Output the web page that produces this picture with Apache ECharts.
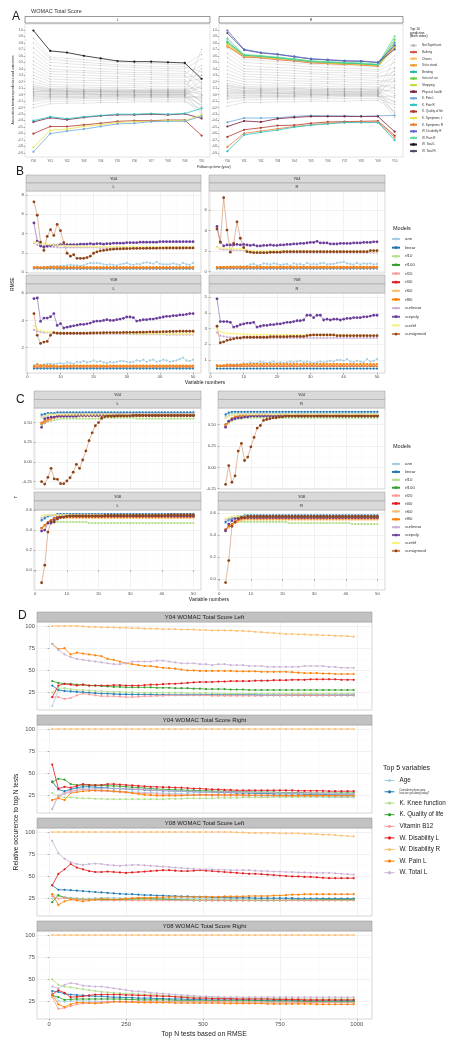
<!DOCTYPE html>
<html><head><meta charset="utf-8">
<script src="https://cdn.jsdelivr.net/npm/echarts@6.0.0/dist/echarts.min.js"></script>
<style>html,body{margin:0;padding:0;background:#fff}#c{width:455px;height:1050px}</style>
</head><body><div id="c"></div><script>
// ---------------- Panel A data ----------------
const aTimes = ['Y00','Y01','Y02','Y03','Y04','Y05','Y06','Y07','Y08','Y09','Y10'];
const aYTicks = [-0.9,-0.8,-0.7,-0.6,-0.5,-0.4,-0.3,-0.2,-0.1,0,0.1,0.2,0.3,0.4,0.5,0.6,0.7,0.8,0.9,1.0];
const aNames = ['Not Significant','Bathing','Chores','Sit to stand','Bending','In/out of car','Shopping','Physical health','K. Pain L','K. Pain R','K. Quality of life','K. Symptoms L','K. Symptoms R','W. Disability R','W. Pain R','W. Total L','W. Total R'];
const aColors = ['#bdbdbd','#d9534f','#f5c26b','#f29b30','#2bb5a5','#6ccf3f','#c4d93a','#7a1f3d','#6fa8dc','#2ec4c4','#b03a2e','#e8e04a','#e8833a','#5b6bd6','#5ee0a0','#1a1a1a','#4a4f6a'];
const aLGray = [
 [.87,.58,.56,.54,.52,.5,.49,.48,.47,.46,.62],
 [.8,.55,.52,.5,.48,.46,.45,.44,.43,.43,.35],
 [.72,.5,.48,.46,.45,.43,.42,.41,.4,.4,.55],
 [.65,.45,.43,.42,.4,.39,.38,.37,.37,.36,.18],
 [.58,.4,.38,.37,.36,.35,.34,.34,.33,.33,.45],
 [.52,.36,.35,.34,.33,.32,.31,.31,.3,.3,.08],
 [.46,.32,.31,.3,.29,.28,.28,.27,.27,.27,.3],
 [.4,.28,.27,.26,.25,.25,.24,.24,.23,.23,-.05],
 [.35,.24,.23,.22,.22,.21,.21,.2,.2,.2,.25],
 [.3,.2,.19,.19,.18,.18,.17,.17,.17,.17,.02],
 [.25,.16,.15,.15,.14,.14,.14,.13,.13,.13,.4],
 [.2,.13,.12,.12,.11,.11,.11,.1,.1,.1,-.12],
 [.16,.1,.1,.09,.09,.09,.08,.08,.08,.08,.12],
 [.13,.09,.09,.08,.08,.08,.07,.07,.07,.07,0],
 [.12,.08,.07,.07,.07,.06,.06,.06,.06,.06,-.2],
 [.1,.07,.07,.07,.06,.06,.06,.06,.06,.06,.3],
 [.09,.06,.05,.05,.05,.05,.04,.04,.04,.04,.2],
 [.08,.05,.05,.05,.05,.05,.05,.05,.05,.05,-.1],
 [.06,.04,.04,.03,.03,.03,.03,.03,.03,.03,-.08],
 [.05,.04,.03,.03,.03,.03,.03,.03,.03,.03,.1],
 [.03,.02,.02,.02,.01,.01,.01,.01,.01,.01,.05],
 [.02,.01,.01,.01,.01,.01,.01,.01,.01,.01,-.18],
 [0,0,0,0,0,0,0,0,0,0,-.28],
 [-.01,0,0,0,0,0,0,0,0,0,.25],
 [-.03,-.02,-.02,-.02,-.01,-.01,-.01,-.01,-.01,-.01,.15],
 [-.04,-.03,-.03,-.03,-.03,-.02,-.02,-.02,-.02,-.02,-.05],
 [-.06,-.04,-.04,-.04,-.03,-.03,-.03,-.03,-.03,-.03,-.15],
 [-.08,-.05,-.05,-.05,-.05,-.04,-.04,-.04,-.04,-.04,-.25],
 [-.1,-.07,-.07,-.06,-.06,-.06,-.05,-.05,-.05,-.05,-.02],
 [-.15,-.1,-.1,-.09,-.09,-.08,-.08,-.08,-.08,-.08,-.3],
 [-.2,-.14,-.13,-.13,-.12,-.12,-.11,-.11,-.11,-.11,-.22],
 [.04,.07,.06,.05,.05,.04,.04,.04,.03,.03,.7]
];
const aLSigNames = ['Physical health','K. Pain R','K. Quality of life','K. Symptoms L','K. Pain L','W. Total L'];
const aLSig = [
 [-.42,-.355,-.385,-.35,-.325,-.31,-.31,-.3,-.31,-.295,-.365],
 [-.4,-.34,-.37,-.34,-.32,-.3,-.3,-.29,-.3,-.29,-.21],
 [-.6,-.49,-.49,-.465,-.44,-.41,-.4,-.4,-.39,-.39,-.63],
 [-.81,-.55,-.53,-.49,-.465,-.43,-.415,-.41,-.4,-.4,-.31],
 [-.88,-.6,-.56,-.53,-.49,-.45,-.44,-.415,-.41,-.41,-.33],
 [.99,.675,.65,.6,.56,.52,.51,.51,.5,.49,.245]
];
const aRGray = [
 [.88,.58,.56,.54,.52,.5,.49,.48,.47,.45,.82],
 [.8,.55,.53,.51,.49,.47,.46,.45,.44,.43,.7],
 [.72,.5,.48,.47,.45,.43,.42,.41,.4,.39,.6],
 [.64,.45,.43,.42,.41,.39,.38,.37,.37,.36,.5],
 [.57,.4,.39,.38,.37,.35,.34,.34,.33,.32,.42],
 [.5,.36,.35,.34,.33,.32,.31,.3,.3,.29,.3],
 [.44,.32,.31,.3,.29,.28,.27,.27,.26,.26,.36],
 [.38,.28,.27,.26,.25,.24,.24,.23,.23,.22,.2],
 [.32,.24,.23,.22,.21,.21,.2,.2,.19,.19,.25],
 [.27,.2,.19,.18,.18,.17,.17,.16,.16,.16,.1],
 [.22,.16,.15,.15,.14,.14,.13,.13,.13,.12,.15],
 [.18,.13,.12,.12,.11,.11,.1,.1,.1,.1,.02],
 [.15,.11,.1,.1,.1,.09,.09,.09,.09,.08,.55],
 [.14,.1,.09,.09,.09,.08,.08,.08,.08,.07,.06],
 [.12,.09,.08,.08,.08,.07,.07,.07,.07,.07,-.3],
 [.1,.07,.07,.06,.06,.06,.06,.05,.05,.05,-.05],
 [.09,.06,.06,.06,.05,.05,.05,.05,.05,.05,.4],
 [.07,.05,.05,.04,.04,.04,.04,.04,.03,.03,-.12],
 [.05,.04,.04,.03,.03,.03,.03,.03,.03,.03,.22],
 [.04,.03,.03,.02,.02,.02,.02,.02,.02,.02,-.2],
 [.02,.02,.02,.02,.01,.01,.01,.01,.01,.01,.12],
 [.01,.01,.01,.01,.01,0,0,0,0,0,-.28],
 [-.01,-.01,-.01,-.01,-.01,0,0,0,0,0,.32],
 [-.03,-.02,-.02,-.02,-.02,-.01,-.01,-.01,-.01,-.01,-.35],
 [-.05,-.04,-.03,-.03,-.03,-.03,-.02,-.02,-.02,-.02,-.1],
 [-.07,-.05,-.05,-.04,-.04,-.04,-.04,-.03,-.03,-.03,-.02],
 [-.12,-.08,-.08,-.07,-.07,-.07,-.06,-.06,-.06,-.06,-.15],
 [-.18,-.12,-.12,-.11,-.11,-.1,-.1,-.1,-.09,-.09,-.25]
];
const aRSigNames = ['K. Pain L','Physical health','K. Quality of life','K. Symptoms R','K. Pain R','Bathing','Sit to stand','Chores','Shopping','In/out of car','Bending','W. Pain R','W. Total R','W. Disability R'];
const aRSig = [
 [-.425,-.36,-.36,-.355,-.335,-.32,-.325,-.325,-.335,-.325,-.32],
 [-.49,-.405,-.42,-.37,-.35,-.335,-.335,-.335,-.335,-.335,-.57],
 [-.65,-.54,-.51,-.475,-.47,-.44,-.42,-.415,-.41,-.405,-.63],
 [-.805,-.595,-.56,-.525,-.49,-.465,-.44,-.425,-.42,-.42,-.66],
 [-.87,-.62,-.58,-.545,-.5,-.47,-.45,-.43,-.43,-.43,-.7],
 [.75,.58,.57,.54,.52,.49,.48,.47,.46,.44,.76],
 [.74,.59,.57,.55,.53,.5,.48,.47,.46,.44,.74],
 [.76,.6,.58,.55,.53,.5,.49,.48,.47,.45,.78],
 [.78,.6,.59,.56,.54,.51,.49,.48,.47,.45,.72],
 [.8,.61,.6,.57,.55,.52,.5,.49,.48,.46,.85],
 [.82,.61,.59,.57,.54,.51,.5,.49,.48,.46,.8],
 [.86,.62,.6,.58,.55,.52,.51,.5,.49,.47,.9],
 [.95,.69,.645,.62,.585,.55,.535,.52,.515,.495,.7],
 [.99,.7,.65,.625,.59,.555,.54,.525,.52,.5,.76]
];

// ---------------- Panels B & C data ----------------
const models = ['ann','linear','rf10','rf100','rf20','rf40','rf60','rf80','surlinear','surpoly','surrbf','sursigmoid'];
const modelColors = ['#a6cee3','#1f78b4','#b2df8a','#33a02c','#fb9a99','#e31a1c','#fdbf6f','#ff7f00','#cab2d6','#6a3d9a','#f8f37f','#8c4215'];
const modelLine = ['#a6cee3','#1f78b4','#b2df8a','#33a02c','#fb9a99','#e31a1c','#fdbf6f','#ff7f00','#cab2d6','#7d5aa8','#f8f37f','#cf8a5c'];
const xVar = [2,3,4,5,6,7,8,9,10,11,12,13,14,15,16,17,18,19,20,21,22,23,24,25,26,27,28,29,30,31,32,33,34,35,36,37,38,39,40,41,42,43,44,45,46,47,48,49,50];
const bTicksY04L = [0,2,4,6,8], bTicksY04R = [0,2,4,6], bTicksY08L = [0,2,4,6], bTicksY08R = [1,2,3,4,5];
const xVarTicks = [0,10,20,30,40,50];
// rows in order of `models`
const rmseY04L = [
 [.5,.5,.5,.55,.55,.6,.6,.6,.65,.65,.7,.75,.7,.7,.65,.7,.85,.95,.9,.95,.9,.8,.75,.8,.75,.7,.8,.85,.95,.8,.75,.85,.8,.95,1,.95,.85,1.05,.85,.8,.8,.8,.9,.8,.75,.95,.8,.75,.95],
 [.38,.37,.37,.36,.36,.36,.36,.35,.35,.35,.35,.35,.35,.35,.35,.35,.35,.35,.35,.35,.35,.35,.35,.35,.35,.35,.35,.35,.35,.35,.35,.35,.35,.35,.35,.35,.35,.35,.35,.35,.35,.35,.35,.35,.35,.35,.35,.35,.35],
 [.42,.42,.41,.41,.41,.4,.4,.4,.4,.4,.4,.4,.4,.4,.4,.4,.4,.4,.4,.4,.4,.4,.4,.4,.4,.4,.4,.4,.4,.4,.4,.4,.4,.4,.4,.4,.4,.4,.4,.4,.4,.4,.4,.4,.4,.4,.4,.4,.4],
 [.45,.46,.44,.45,.45,.46,.46,.45,.45,.45,.44,.44,.44,.44,.44,.44,.44,.44,.44,.44,.44,.44,.44,.44,.44,.44,.44,.44,.44,.44,.44,.44,.44,.44,.44,.44,.44,.44,.44,.44,.44,.44,.44,.44,.44,.44,.44,.44,.44],
 [.44,.45,.43,.44,.44,.45,.45,.44,.44,.44,.43,.43,.43,.43,.43,.43,.43,.43,.43,.43,.43,.43,.43,.43,.43,.43,.43,.43,.43,.43,.43,.43,.43,.43,.43,.43,.43,.43,.43,.43,.43,.43,.43,.43,.43,.43,.43,.43,.43],
 [.46,.47,.44,.45,.46,.47,.47,.46,.46,.46,.45,.45,.45,.45,.45,.45,.45,.45,.45,.45,.45,.45,.45,.45,.45,.45,.45,.45,.45,.45,.45,.45,.45,.45,.45,.45,.45,.45,.45,.45,.45,.45,.45,.45,.45,.45,.45,.45,.45],
 [.48,.5,.45,.47,.48,.5,.5,.5,.49,.48,.47,.47,.47,.47,.47,.47,.47,.47,.47,.47,.47,.47,.47,.47,.47,.47,.47,.47,.47,.47,.47,.47,.47,.47,.47,.47,.47,.47,.47,.47,.47,.47,.47,.47,.47,.47,.47,.47,.47],
 [.5,.55,.45,.5,.5,.55,.55,.55,.52,.5,.5,.5,.49,.49,.49,.49,.5,.5,.49,.49,.49,.49,.49,.49,.49,.49,.49,.49,.49,.49,.49,.49,.49,.49,.49,.49,.49,.49,.49,.49,.49,.49,.49,.49,.49,.49,.49,.49,.49],
 [3,2.8,2.7,2.65,2.6,2.6,2.6,2.55,2.55,2.55,2.55,2.55,2.55,2.55,2.55,2.55,2.55,2.55,2.55,2.55,2.5,2.5,2.5,2.5,2.5,2.5,2.5,2.5,2.5,2.5,2.48,2.48,2.48,2.48,2.48,2.48,2.48,2.48,2.48,2.48,2.47,2.47,2.47,2.47,2.47,2.47,2.47,2.47,2.47],
 [5.1,3.2,2.7,2.6,2.7,2.75,2.8,2.8,2.85,2.85,2.85,2.85,2.85,2.85,2.9,2.9,2.9,2.95,2.9,2.95,2.95,2.9,2.95,2.95,3,3,3,3,3.05,3.05,3.05,3.05,3.1,3.1,3.1,3.1,3.1,3.1,3.15,3.15,3.15,3.15,3.15,3.15,3.15,3.15,3.15,3.15,3.15],
 [3.1,3.05,3,2.95,2.9,2.85,2.8,2.8,2.75,2.75,2.7,2.7,2.7,2.68,2.68,2.66,2.66,2.65,2.65,2.64,2.63,2.63,2.63,2.63,2.63,2.63,2.63,2.63,2.63,2.63,2.62,2.62,2.62,2.62,2.62,2.62,2.62,2.62,2.62,2.62,2.6,2.6,2.6,2.6,2.6,2.6,2.6,2.6,2.6],
 [7.3,5.9,3.1,2.25,3.7,4.4,3.8,4.95,4.3,3.05,1.95,1.65,1.8,1.42,1.42,1.42,1.5,1.65,1.95,2.1,2.2,2.25,2.3,2.35,2.38,2.4,2.4,2.42,2.43,2.44,2.45,2.45,2.46,2.46,2.47,2.47,2.48,2.48,2.49,2.49,2.5,2.5,2.5,2.5,2.5,2.5,2.51,2.51,2.51]
];
const rmseY04R = [
 [.4,.4,.45,.45,.5,.5,.5,.5,.5,.55,.7,.75,.6,.65,.8,.75,.7,.8,.75,.65,.7,.75,.6,.8,.7,.75,.65,.85,.7,.75,.7,.8,.85,.7,.75,.75,.85,.9,.95,.8,.75,.7,.85,.7,.8,.75,.8,.7,.75],
 [.3,.3,.3,.3,.3,.3,.3,.3,.3,.3,.3,.3,.3,.3,.3,.3,.3,.3,.3,.3,.3,.3,.3,.3,.3,.3,.3,.3,.3,.3,.3,.3,.3,.3,.3,.3,.3,.3,.3,.3,.3,.3,.3,.3,.3,.3,.3,.3,.3],
 [.36,.36,.36,.36,.36,.36,.36,.36,.36,.36,.36,.36,.36,.36,.36,.36,.36,.36,.36,.36,.36,.36,.36,.36,.36,.36,.36,.36,.36,.36,.36,.36,.36,.36,.36,.36,.36,.36,.36,.36,.36,.36,.36,.36,.36,.36,.36,.36,.36],
 [.4,.4,.4,.4,.4,.4,.4,.4,.4,.4,.4,.4,.4,.4,.4,.4,.4,.4,.4,.4,.4,.4,.4,.4,.4,.4,.4,.4,.4,.4,.4,.4,.4,.4,.4,.4,.4,.4,.4,.4,.4,.4,.4,.4,.4,.4,.4,.4,.4],
 [.38,.38,.38,.38,.38,.38,.38,.38,.38,.38,.38,.38,.38,.38,.38,.38,.38,.38,.38,.38,.38,.38,.38,.38,.38,.38,.38,.38,.38,.38,.38,.38,.38,.38,.38,.38,.38,.38,.38,.38,.38,.38,.38,.38,.38,.38,.38,.38,.38],
 [.41,.41,.41,.41,.41,.41,.41,.41,.41,.41,.41,.41,.41,.41,.41,.41,.41,.41,.41,.41,.41,.41,.41,.41,.41,.41,.41,.41,.41,.41,.41,.41,.41,.41,.41,.41,.41,.41,.41,.41,.41,.41,.41,.41,.41,.41,.41,.41,.41],
 [.43,.43,.43,.43,.43,.43,.43,.43,.43,.43,.43,.43,.43,.43,.43,.43,.43,.43,.43,.43,.43,.43,.43,.43,.43,.43,.43,.43,.43,.43,.43,.43,.43,.43,.43,.43,.43,.43,.43,.43,.43,.43,.43,.43,.43,.43,.43,.43,.43],
 [.42,.44,.45,.47,.47,.48,.48,.47,.47,.47,.46,.46,.46,.46,.46,.46,.46,.46,.46,.46,.46,.46,.46,.46,.46,.46,.46,.46,.46,.46,.46,.46,.46,.46,.46,.46,.46,.46,.46,.46,.46,.46,.46,.46,.46,.46,.46,.46,.46],
 [2.4,2.2,2.15,2.15,2.1,2.1,2.1,2.1,2.05,2,1.9,1.88,1.86,1.85,1.85,1.85,1.85,1.85,1.85,1.85,1.85,1.85,1.85,1.85,1.85,1.85,1.85,1.85,1.85,1.85,1.85,1.85,1.85,1.85,1.85,1.85,1.85,1.85,1.85,1.85,1.85,1.85,1.85,1.85,1.85,1.85,1.85,1.85,1.85],
 [4.4,2.9,2.5,2.6,2.6,2.6,2.65,2.6,2.65,2.6,2.55,2.6,2.5,2.5,2.55,2.55,2.6,2.55,2.55,2.6,2.6,2.65,2.65,2.7,2.7,2.75,2.75,2.8,2.85,2.85,2.95,2.8,2.8,2.8,2.7,2.7,2.7,2.75,2.75,2.75,2.75,2.8,2.8,2.8,2.85,2.85,2.85,2.9,2.9],
 [2.35,2.3,2.3,2.25,2.25,2.2,2.2,2.2,2.15,2.1,2.05,2.02,2,2,2,2,2,2,2,2,2,2,2,2,2,2,2,2,2,2,1.98,1.98,1.98,1.98,1.98,1.98,1.98,1.98,1.98,1.98,1.97,1.97,1.97,1.97,1.97,1.97,1.97,1.97,1.97],
 [4.15,2.85,7.2,4.05,1.9,2.75,4.85,3.25,2.35,1.95,1.9,1.85,1.85,1.85,1.85,1.85,1.9,1.9,1.9,1.9,1.95,1.95,1.95,1.95,1.95,1.95,1.95,1.95,1.95,1.95,1.95,1.95,1.95,1.95,1.95,1.95,1.95,1.95,1.95,1.95,1.95,1.95,1.95,1.95,1.95,1.95,2.05,2.05,2.05]
];
const rmseY08L = [
 [.7,.75,.7,.75,.8,.8,.75,.8,.85,.8,.9,.85,.8,.95,.9,1,.9,.95,1.05,.95,1,.9,.85,.95,.9,.95,1,1,.95,.9,.95,1.05,1,1.1,.95,1.05,1.1,.95,1,1.1,1.05,.95,1,1.05,1.15,1.25,1.05,1,1.1],
 [.45,.45,.45,.45,.45,.45,.45,.45,.45,.45,.45,.45,.45,.45,.45,.45,.45,.45,.45,.45,.45,.45,.45,.45,.45,.45,.45,.45,.45,.45,.45,.45,.45,.45,.45,.45,.45,.45,.45,.45,.45,.45,.45,.45,.45,.45,.45,.45,.45],
 [.55,.55,.55,.55,.55,.55,.55,.55,.55,.55,.55,.55,.55,.55,.55,.55,.55,.55,.55,.55,.55,.55,.55,.55,.55,.55,.55,.55,.55,.55,.55,.55,.55,.55,.55,.55,.55,.55,.55,.55,.55,.55,.55,.55,.55,.55,.55,.55,.55],
 [.58,.58,.58,.58,.58,.58,.58,.58,.58,.58,.58,.58,.58,.58,.58,.58,.58,.58,.58,.58,.58,.58,.58,.58,.58,.58,.58,.58,.58,.58,.58,.58,.58,.58,.58,.58,.58,.58,.58,.58,.58,.58,.58,.58,.58,.58,.58,.58,.58],
 [.57,.57,.57,.57,.57,.57,.57,.57,.57,.57,.57,.57,.57,.57,.57,.57,.57,.57,.57,.57,.57,.57,.57,.57,.57,.57,.57,.57,.57,.57,.57,.57,.57,.57,.57,.57,.57,.57,.57,.57,.57,.57,.57,.57,.57,.57,.57,.57,.57],
 [.6,.6,.6,.6,.6,.6,.6,.6,.6,.6,.6,.6,.6,.6,.6,.6,.6,.6,.6,.6,.6,.6,.6,.6,.6,.6,.6,.6,.6,.6,.6,.6,.6,.6,.6,.6,.6,.6,.6,.6,.6,.6,.6,.6,.6,.6,.6,.6,.6],
 [.62,.62,.62,.62,.62,.62,.62,.62,.62,.62,.62,.62,.62,.62,.62,.62,.62,.62,.62,.62,.62,.62,.62,.62,.62,.62,.62,.62,.62,.62,.62,.62,.62,.62,.62,.62,.62,.62,.62,.62,.62,.62,.62,.62,.62,.62,.62,.62,.62],
 [.62,.75,.68,.68,.68,.68,.66,.6,.62,.64,.66,.66,.66,.66,.66,.66,.66,.66,.66,.66,.66,.66,.66,.66,.66,.66,.66,.66,.66,.66,.66,.66,.66,.66,.66,.66,.66,.66,.66,.66,.66,.66,.66,.66,.66,.66,.66,.66,.66],
 [3.3,3.2,3.15,3.1,3.1,3.05,3.05,3.05,3,3,3,3,3,3,3,3,3,3,3,3,3,3,3,3,3,3,3,3,3,3,2.97,2.97,2.97,2.97,2.97,2.97,2.97,2.97,2.97,2.97,2.95,2.95,2.95,2.95,2.95,2.95,2.95,2.95,2.95],
 [5.6,5.65,3.93,4.17,4.17,4.27,4.5,3.63,3.76,3.44,3.5,3.55,3.6,3.65,3.7,3.7,3.75,3.8,3.9,3.95,3.95,4,4.05,4,4,4.05,4.1,4.15,4.25,4.25,4.2,3.95,4,4.05,4.05,4.1,4.1,4.15,4.2,4.25,4.3,4.3,4.35,4.35,4.4,4.4,4.45,4.5,4.5],
 [3.6,3.35,3.25,3.2,3.15,3.15,3.1,3.1,3.1,3.05,3.05,3.05,3.05,3.05,3.05,3.05,3.05,3.05,3.05,3.05,3.05,3.05,3.05,3.05,3.05,3.05,3.05,3.05,3.05,3.05,3.02,3.02,3.02,3.02,3.02,3.02,3.02,3.02,3.02,3.02,3,3,3,3,3,3,3,3,3],
 [4.5,2.9,2.3,2.4,2.45,2.9,3.1,3.05,3.05,3.05,3.05,3.05,3.05,3.05,3.05,3.06,3.06,3.07,3.07,3.08,3.08,3.09,3.1,3.1,3.1,3.1,3.1,3.11,3.11,3.12,3.12,3.12,3.13,3.13,3.14,3.15,3.15,3.15,3.16,3.17,3.17,3.18,3.18,3.19,3.2,3.2,3.2,3.2,3.2]
];
const rmseY08R = [
 [.55,.6,.65,.6,.7,.7,.75,.7,.8,.75,.85,.8,.8,.9,.85,.8,.85,.9,.8,.85,.8,.85,.9,.85,.9,.95,.85,.9,.85,.8,.85,.9,.85,.9,.95,.9,1,1,.95,1.05,.9,.85,.95,.9,.85,1.05,.9,.95,1.05],
 [.45,.45,.45,.45,.45,.45,.45,.45,.45,.45,.45,.45,.45,.45,.45,.45,.45,.45,.45,.45,.45,.45,.45,.45,.45,.45,.45,.45,.45,.45,.45,.45,.45,.45,.45,.45,.45,.45,.45,.45,.45,.45,.45,.45,.45,.45,.45,.45,.45],
 [.58,.58,.58,.58,.58,.58,.58,.58,.58,.58,.58,.58,.58,.58,.58,.58,.58,.58,.58,.58,.58,.58,.58,.58,.58,.58,.58,.58,.58,.58,.58,.58,.58,.58,.58,.58,.58,.58,.58,.58,.58,.58,.58,.58,.58,.58,.58,.58,.58],
 [.62,.62,.62,.62,.62,.62,.62,.62,.62,.62,.62,.62,.62,.62,.62,.62,.62,.62,.62,.62,.62,.62,.62,.62,.62,.62,.62,.62,.62,.62,.62,.62,.62,.62,.62,.62,.62,.62,.62,.62,.62,.62,.62,.62,.62,.62,.62,.62,.62],
 [.6,.6,.6,.6,.6,.6,.6,.6,.6,.6,.6,.6,.6,.6,.6,.6,.6,.6,.6,.6,.6,.6,.6,.6,.6,.6,.6,.6,.6,.6,.6,.6,.6,.6,.6,.6,.6,.6,.6,.6,.6,.6,.6,.6,.6,.6,.6,.6,.6],
 [.64,.64,.64,.64,.64,.64,.64,.64,.64,.64,.64,.64,.64,.64,.64,.64,.64,.64,.64,.64,.64,.64,.64,.64,.64,.64,.64,.64,.64,.64,.64,.64,.64,.64,.64,.64,.64,.64,.64,.64,.64,.64,.64,.64,.64,.64,.64,.64,.64],
 [.66,.66,.66,.66,.66,.66,.66,.66,.66,.66,.66,.66,.66,.66,.66,.66,.66,.66,.66,.66,.66,.66,.66,.66,.66,.66,.66,.66,.66,.66,.66,.66,.66,.66,.66,.66,.66,.66,.66,.66,.66,.66,.66,.66,.66,.66,.66,.66,.66],
 [.65,.6,.62,.7,.7,.68,.68,.7,.72,.72,.74,.74,.74,.74,.74,.74,.74,.74,.74,.74,.74,.74,.74,.74,.74,.74,.74,.74,.74,.74,.74,.74,.74,.74,.74,.74,.74,.74,.74,.74,.74,.74,.74,.74,.74,.74,.74,.74,.74],
 [2.75,2.55,2.5,2.45,2.45,2.42,2.42,2.4,2.4,2.4,2.4,2.4,2.4,2.4,2.4,2.4,2.4,2.4,2.4,2.4,2.4,2.4,2.4,2.4,2.4,2.4,2.4,2.4,2.4,2.4,2.4,2.4,2.4,2.4,2.4,2.4,2.4,2.4,2.4,2.4,2.4,2.4,2.4,2.4,2.4,2.4,2.4,2.4,2.4],
 [4.9,3.45,3.45,3.45,3.4,3.1,3.15,3.25,3.3,3.35,3.35,3.4,3.1,3.15,3.2,3.2,3.25,3.25,3.3,3.3,3.35,3.4,3.4,3.45,3.5,3.5,3.55,3.85,3.85,3.7,3.85,3.85,3.55,3.6,3.55,3.6,3.6,3.55,3.6,3.65,3.65,3.7,3.7,3.7,3.75,3.75,3.8,3.85,3.85],
 [2.95,2.8,2.75,2.7,2.7,2.68,2.66,2.65,2.65,2.64,2.62,2.62,2.62,2.62,2.62,2.62,2.62,2.62,2.62,2.62,2.6,2.6,2.6,2.6,2.6,2.6,2.6,2.6,2.6,2.6,2.58,2.58,2.58,2.58,2.58,2.58,2.58,2.58,2.58,2.58,2.56,2.56,2.56,2.56,2.56,2.56,2.56,2.56,2.56],
 [3.15,2.1,2.15,2.25,2.3,2.35,2.4,2.4,2.45,2.45,2.45,2.45,2.45,2.45,2.45,2.45,2.48,2.48,2.48,2.48,2.48,2.48,2.5,2.5,2.5,2.5,2.5,2.55,2.58,2.6,2.6,2.6,2.6,2.6,2.6,2.6,2.55,2.55,2.55,2.55,2.55,2.55,2.55,2.55,2.55,2.55,2.55,2.55,2.55]
];
const cTicksY04 = [-0.25,0,0.25,0.5], cTicksY08 = [0,0.2,0.4,0.6];
const rY04L = [
 [.58,.6,.61,.61,.62,.62,.62,.62,.62,.62,.62,.62,.62,.62,.62,.62,.62,.62,.62,.62,.62,.62,.62,.62,.62,.62,.62,.62,.62,.62,.62,.62,.62,.62,.62,.62,.62,.62,.62,.62,.62,.62,.62,.62,.62,.62,.62,.62,.62],
 [.6,.61,.62,.62,.62,.63,.63,.63,.63,.63,.63,.63,.63,.63,.63,.63,.63,.63,.63,.63,.63,.63,.63,.63,.63,.63,.63,.63,.63,.63,.63,.63,.63,.63,.63,.63,.63,.63,.63,.63,.63,.63,.63,.63,.63,.63,.63,.63,.63],
 [.47,.49,.51,.52,.53,.54,.55,.55,.55,.55,.55,.55,.55,.55,.55,.55,.55,.55,.55,.55,.56,.56,.56,.56,.56,.56,.56,.56,.56,.56,.55,.55,.55,.55,.55,.55,.55,.55,.55,.55,.55,.55,.55,.55,.55,.55,.55,.55,.55],
 [.48,.5,.53,.55,.57,.58,.59,.59,.6,.6,.6,.6,.6,.6,.6,.6,.6,.6,.6,.6,.6,.6,.6,.6,.6,.6,.6,.6,.6,.6,.6,.6,.6,.6,.6,.6,.6,.6,.6,.6,.6,.6,.6,.6,.6,.6,.6,.6,.6],
 [.48,.5,.52,.54,.56,.57,.58,.58,.59,.59,.59,.59,.59,.59,.59,.59,.59,.59,.59,.59,.59,.59,.59,.59,.59,.59,.59,.59,.59,.59,.59,.59,.59,.59,.59,.59,.59,.59,.59,.59,.59,.59,.59,.59,.59,.59,.59,.59,.59],
 [.49,.51,.53,.55,.57,.58,.59,.59,.6,.6,.6,.6,.6,.6,.6,.6,.6,.6,.6,.6,.6,.6,.6,.6,.6,.6,.6,.6,.6,.6,.6,.6,.6,.6,.6,.6,.6,.6,.6,.6,.6,.6,.6,.6,.6,.6,.6,.6,.6],
 [.49,.51,.53,.55,.56,.57,.58,.58,.58,.58,.58,.58,.58,.58,.58,.58,.58,.58,.58,.58,.58,.58,.58,.58,.58,.58,.58,.58,.58,.58,.58,.58,.58,.58,.58,.58,.58,.58,.58,.58,.58,.58,.58,.58,.58,.58,.58,.58,.58],
 [.5,.52,.54,.56,.57,.58,.59,.59,.59,.59,.59,.59,.59,.59,.59,.59,.59,.59,.59,.59,.59,.59,.59,.59,.59,.59,.59,.59,.59,.59,.59,.59,.59,.59,.59,.59,.59,.59,.59,.59,.59,.59,.59,.59,.59,.59,.59,.59,.59],
 [.56,.58,.59,.6,.6,.6,.61,.61,.61,.61,.61,.61,.61,.61,.61,.61,.61,.61,.61,.61,.61,.61,.61,.61,.61,.61,.61,.61,.61,.61,.61,.61,.61,.61,.61,.61,.61,.61,.61,.61,.61,.61,.61,.61,.61,.61,.61,.61,.61],
 [.44,.55,.56,.57,.57,.58,.58,.58,.58,.58,.58,.58,.59,.59,.59,.59,.59,.59,.59,.59,.59,.59,.59,.59,.59,.59,.59,.59,.59,.59,.59,.59,.59,.59,.59,.59,.59,.59,.59,.59,.59,.59,.59,.59,.59,.59,.59,.59,.59],
 [.56,.58,.6,.6,.6,.6,.6,.6,.6,.6,.6,.6,.6,.6,.6,.6,.6,.6,.6,.6,.6,.6,.6,.6,.6,.6,.6,.6,.6,.6,.6,.6,.6,.6,.6,.6,.6,.6,.6,.6,.6,.6,.6,.6,.6,.6,.6,.6,.6],
 [-.25,-.28,-.195,-.08,-.215,-.22,-.275,-.275,-.24,-.2,-.13,-.03,-.08,.025,.14,.27,.37,.46,.5,.555,.575,.58,.58,.58,.585,.585,.585,.585,.585,.59,.59,.59,.59,.59,.59,.59,.59,.59,.59,.59,.59,.59,.59,.59,.59,.59,.59,.59,.59]
];
const rY04R = [
 [.6,.62,.63,.63,.63,.63,.63,.63,.63,.63,.63,.63,.63,.63,.63,.63,.63,.63,.63,.63,.63,.63,.63,.63,.63,.63,.63,.63,.63,.63,.63,.63,.63,.63,.63,.63,.63,.63,.63,.63,.63,.63,.63,.63,.63,.63,.63,.63,.63],
 [.62,.64,.65,.65,.65,.65,.65,.65,.65,.65,.65,.65,.65,.65,.65,.65,.65,.65,.65,.65,.65,.65,.65,.65,.65,.65,.65,.65,.65,.65,.65,.65,.65,.65,.65,.65,.65,.65,.65,.65,.65,.65,.65,.65,.65,.65,.65,.65,.65],
 [.48,.52,.54,.56,.57,.57,.58,.58,.58,.58,.58,.58,.58,.58,.58,.58,.58,.58,.58,.58,.58,.58,.58,.58,.58,.58,.58,.58,.58,.58,.58,.58,.58,.58,.58,.58,.58,.58,.58,.58,.58,.58,.58,.58,.58,.58,.58,.58,.58],
 [.5,.54,.57,.59,.6,.6,.61,.61,.61,.61,.61,.61,.61,.61,.61,.61,.61,.61,.61,.61,.61,.61,.61,.61,.61,.61,.61,.61,.61,.61,.61,.61,.61,.61,.61,.61,.61,.61,.61,.61,.61,.61,.61,.61,.61,.61,.61,.61,.61],
 [.49,.53,.56,.58,.59,.59,.6,.6,.6,.6,.6,.6,.6,.6,.6,.6,.6,.6,.6,.6,.6,.6,.6,.6,.6,.6,.6,.6,.6,.6,.6,.6,.6,.6,.6,.6,.6,.6,.6,.6,.6,.6,.6,.6,.6,.6,.6,.6,.6],
 [.5,.54,.57,.59,.6,.61,.61,.61,.61,.61,.61,.61,.61,.61,.61,.61,.61,.61,.61,.61,.61,.61,.61,.61,.61,.61,.61,.61,.61,.61,.61,.61,.61,.61,.61,.61,.61,.61,.61,.61,.61,.61,.61,.61,.61,.61,.61,.61,.61],
 [.5,.53,.56,.58,.59,.59,.6,.6,.6,.6,.6,.6,.6,.6,.6,.6,.6,.6,.6,.6,.6,.6,.6,.6,.6,.6,.6,.6,.6,.6,.6,.6,.6,.6,.6,.6,.6,.6,.6,.6,.6,.6,.6,.6,.6,.6,.6,.6,.6],
 [.5,.54,.57,.59,.6,.6,.61,.61,.61,.61,.61,.61,.61,.61,.61,.61,.61,.61,.61,.61,.61,.61,.61,.61,.61,.61,.61,.61,.61,.61,.61,.61,.61,.61,.61,.61,.61,.61,.61,.61,.61,.61,.61,.61,.61,.61,.61,.61,.61],
 [.58,.6,.61,.61,.62,.62,.62,.62,.62,.62,.62,.62,.62,.62,.62,.62,.62,.62,.62,.62,.62,.62,.62,.62,.62,.62,.62,.62,.62,.62,.62,.62,.62,.62,.62,.62,.62,.62,.62,.62,.62,.62,.62,.62,.62,.62,.62,.62,.62],
 [.47,.54,.56,.57,.58,.58,.59,.59,.6,.6,.6,.6,.6,.6,.6,.6,.6,.6,.6,.6,.6,.6,.6,.6,.6,.6,.6,.6,.6,.6,.6,.6,.6,.6,.6,.6,.6,.6,.6,.6,.6,.6,.6,.6,.6,.6,.6,.6,.6],
 [.58,.6,.61,.62,.62,.62,.62,.62,.62,.62,.62,.62,.62,.62,.62,.62,.62,.62,.62,.62,.62,.62,.62,.62,.62,.62,.62,.62,.62,.62,.62,.62,.62,.62,.62,.62,.62,.62,.62,.62,.62,.62,.62,.62,.62,.62,.62,.62,.62],
 [-.2,.02,-.175,-.1,.19,.28,.08,.12,.24,.35,.46,.49,.55,.56,.57,.58,.58,.59,.59,.6,.6,.6,.6,.6,.6,.6,.6,.6,.6,.6,.6,.6,.6,.6,.6,.6,.6,.6,.6,.6,.6,.6,.6,.6,.6,.6,.6,.6,.6]
];
const rY08L = [
 [.49,.51,.53,.54,.54,.55,.55,.55,.55,.55,.55,.55,.55,.55,.55,.55,.55,.55,.55,.55,.55,.55,.55,.55,.55,.55,.55,.55,.55,.55,.55,.55,.55,.55,.55,.55,.55,.55,.55,.55,.55,.55,.55,.55,.55,.55,.55,.55,.55],
 [.5,.52,.54,.55,.55,.56,.56,.56,.56,.56,.56,.56,.56,.56,.56,.56,.56,.56,.56,.56,.56,.56,.56,.56,.56,.56,.56,.56,.56,.56,.56,.56,.56,.56,.56,.56,.56,.56,.56,.56,.56,.56,.56,.56,.56,.56,.56,.56,.56],
 [.42,.44,.46,.47,.48,.48,.48,.48,.48,.48,.48,.48,.48,.48,.48,.47,.47,.47,.47,.47,.47,.47,.47,.47,.47,.47,.47,.47,.47,.47,.47,.47,.47,.47,.47,.47,.47,.47,.47,.47,.47,.47,.47,.47,.47,.47,.47,.47,.47],
 [.42,.45,.48,.5,.52,.53,.54,.54,.54,.54,.54,.54,.54,.54,.54,.54,.54,.54,.54,.54,.54,.54,.54,.54,.54,.54,.54,.54,.54,.54,.54,.54,.54,.54,.54,.54,.54,.54,.54,.54,.54,.54,.54,.54,.54,.54,.54,.54,.54],
 [.41,.44,.47,.49,.51,.52,.53,.53,.53,.53,.53,.53,.53,.53,.53,.53,.53,.53,.53,.53,.53,.53,.53,.53,.53,.53,.53,.53,.53,.53,.53,.53,.53,.53,.53,.53,.53,.53,.53,.53,.53,.53,.53,.53,.53,.53,.53,.53,.53],
 [.42,.45,.48,.5,.52,.53,.54,.54,.54,.54,.54,.54,.54,.54,.54,.54,.54,.54,.54,.54,.54,.54,.54,.54,.54,.54,.54,.54,.54,.54,.54,.54,.54,.54,.54,.54,.54,.54,.54,.54,.54,.54,.54,.54,.54,.54,.54,.54,.54],
 [.41,.44,.47,.49,.5,.51,.52,.52,.52,.52,.52,.52,.52,.52,.52,.52,.52,.52,.52,.52,.52,.52,.52,.52,.52,.52,.52,.52,.52,.52,.52,.52,.52,.52,.52,.52,.52,.52,.52,.52,.52,.52,.52,.52,.52,.52,.52,.52,.52],
 [.42,.45,.48,.5,.52,.53,.53,.53,.53,.53,.53,.53,.53,.53,.53,.53,.53,.53,.53,.53,.53,.53,.53,.53,.53,.53,.53,.53,.53,.53,.53,.53,.53,.53,.53,.53,.53,.53,.53,.53,.53,.53,.53,.53,.53,.53,.53,.53,.53],
 [.52,.54,.55,.55,.55,.55,.55,.55,.55,.55,.55,.55,.55,.55,.55,.55,.55,.55,.55,.55,.55,.55,.55,.55,.55,.55,.55,.55,.55,.55,.55,.55,.55,.55,.55,.55,.55,.55,.55,.55,.55,.55,.55,.55,.55,.55,.55,.55,.55],
 [.39,.4,.47,.47,.5,.52,.53,.53,.54,.54,.54,.54,.54,.54,.54,.54,.54,.54,.54,.54,.54,.54,.54,.54,.54,.54,.54,.54,.54,.54,.54,.54,.54,.54,.54,.54,.54,.54,.54,.54,.54,.54,.54,.54,.54,.54,.54,.54,.54],
 [.54,.55,.55,.55,.55,.55,.55,.55,.55,.55,.55,.55,.55,.55,.55,.55,.55,.55,.55,.55,.55,.55,.55,.55,.55,.55,.55,.55,.55,.55,.55,.55,.55,.55,.55,.55,.55,.55,.55,.55,.55,.55,.55,.55,.55,.55,.55,.55,.55],
 [-.125,.05,.38,.485,.48,.51,.525,.53,.535,.54,.54,.54,.54,.54,.54,.54,.54,.54,.54,.54,.545,.545,.545,.545,.545,.545,.545,.545,.545,.545,.545,.545,.545,.545,.545,.545,.545,.545,.545,.545,.55,.55,.55,.55,.55,.55,.55,.55,.55]
];
const rY08R = [
 [.51,.53,.55,.56,.57,.57,.57,.57,.57,.57,.57,.57,.57,.57,.57,.57,.57,.57,.57,.57,.57,.57,.57,.57,.57,.57,.57,.57,.57,.57,.57,.57,.57,.57,.57,.57,.57,.57,.57,.57,.57,.57,.57,.57,.57,.57,.57,.57,.57],
 [.52,.54,.55,.56,.57,.57,.58,.58,.58,.58,.58,.58,.58,.58,.58,.58,.58,.58,.58,.58,.58,.58,.58,.58,.58,.58,.58,.58,.58,.58,.58,.58,.58,.58,.58,.58,.58,.58,.58,.58,.58,.58,.58,.58,.58,.58,.58,.58,.58],
 [.45,.48,.5,.51,.52,.52,.52,.52,.52,.52,.52,.52,.52,.52,.52,.52,.52,.52,.52,.52,.51,.51,.51,.51,.51,.51,.51,.51,.51,.51,.51,.51,.51,.51,.51,.51,.51,.51,.51,.51,.5,.5,.5,.5,.5,.5,.5,.5,.5],
 [.45,.48,.5,.52,.54,.55,.56,.56,.56,.56,.56,.56,.56,.56,.56,.56,.56,.56,.56,.56,.56,.56,.56,.56,.56,.56,.56,.56,.56,.56,.56,.56,.56,.56,.56,.56,.56,.56,.56,.56,.56,.56,.56,.56,.56,.56,.56,.56,.56],
 [.44,.47,.49,.51,.53,.54,.55,.55,.55,.55,.55,.55,.55,.55,.55,.55,.55,.55,.55,.55,.55,.55,.55,.55,.55,.55,.55,.55,.55,.55,.55,.55,.55,.55,.55,.55,.55,.55,.55,.55,.55,.55,.55,.55,.55,.55,.55,.55,.55],
 [.45,.48,.5,.52,.54,.55,.56,.56,.56,.56,.56,.56,.56,.56,.56,.56,.56,.56,.56,.56,.56,.56,.56,.56,.56,.56,.56,.56,.56,.56,.56,.56,.56,.56,.56,.56,.56,.56,.56,.56,.56,.56,.56,.56,.56,.56,.56,.56,.56],
 [.44,.47,.49,.51,.52,.53,.54,.54,.54,.54,.54,.54,.54,.54,.54,.54,.54,.54,.54,.54,.54,.54,.54,.54,.54,.54,.54,.54,.54,.54,.54,.54,.54,.54,.54,.54,.54,.54,.54,.54,.54,.54,.54,.54,.54,.54,.54,.54,.54],
 [.45,.48,.5,.52,.54,.55,.55,.55,.55,.55,.55,.55,.55,.55,.55,.55,.55,.55,.55,.55,.55,.55,.55,.55,.55,.55,.55,.55,.55,.55,.55,.55,.55,.55,.55,.55,.55,.55,.55,.55,.55,.55,.55,.55,.55,.55,.55,.55,.55],
 [.54,.55,.56,.56,.56,.56,.56,.56,.56,.56,.56,.56,.56,.56,.56,.56,.56,.56,.56,.56,.56,.56,.56,.56,.56,.56,.56,.56,.56,.56,.56,.56,.56,.56,.56,.56,.56,.56,.56,.56,.56,.56,.56,.56,.56,.56,.56,.56,.56],
 [.44,.5,.53,.55,.55,.56,.56,.56,.56,.56,.56,.56,.56,.56,.56,.56,.56,.56,.56,.56,.56,.56,.56,.56,.56,.56,.56,.56,.56,.56,.56,.56,.56,.56,.56,.56,.56,.56,.56,.56,.56,.56,.56,.56,.56,.56,.56,.56,.56],
 [.55,.56,.57,.57,.57,.57,.57,.57,.57,.57,.57,.57,.57,.57,.57,.57,.57,.57,.57,.57,.57,.57,.57,.57,.57,.57,.57,.57,.57,.57,.57,.57,.57,.57,.57,.57,.57,.57,.57,.57,.57,.57,.57,.57,.57,.57,.57,.57,.57],
 [-.03,.17,.48,.52,.55,.56,.56,.57,.57,.57,.57,.57,.57,.57,.57,.57,.57,.57,.57,.57,.57,.57,.57,.57,.57,.57,.57,.57,.57,.57,.57,.57,.57,.57,.57,.57,.57,.57,.57,.57,.57,.57,.57,.57,.57,.57,.57,.57,.57]
];

// ---------------- Panel D data ----------------
const dNames = ['Age','Considering knee pain, how are you doing today?','K. Knee function','K. Quality of life','Vitamin B12','W. Disability L','W. Disability R','W. Pain L','W. Total L'];
const dColors = ['#a6cee3','#1f78b4','#b2df8a','#33a02c','#fb9a99','#e31a1c','#fdbf6f','#ff7f00','#cab2d6'];
const dFacets = ['Y04 WOMAC Total Score Left','Y04 WOMAC Total Score Right','Y08 WOMAC Total Score Left','Y08 WOMAC Total Score Right'];
const xTopN = [10,30,50,70,90,110,130,150,170,190,210,230,250,270,290,310,330,350,370,390,410,430,450,470,490,510,530,550,570,590,610,630,650,670,690,710,730,750,770,790,810,830,850,870,890,910,930,950,970,990];
const dYTicks = [25,50,75,100], dXTicks = [0,250,500,750,1000];
const occY04L = [
 [10,28,27,26,25.5,25,25,24.5,24,24,24,23.5,23.5,23,23,23,23,23,23,23,23,23,23,23,23,23,23,23,23,23,23,23,23,23,23,23,23,23,23,23,23,23,23,23,23,23,23,23,23,23],
 [33,28,27,26.5,26,25.5,25,24.5,24,24,23.5,23,23,23,23,23,23,22.5,22.5,22.5,22.5,22.5,22.5,22.5,22.5,22.5,22.5,22.5,22.5,22.5,22.5,22.5,22.5,22.5,22,22,22,22,22,22,22,22,22,22,22,22,22,22,22,22],
 [25,30,30,29,28,28,27.5,27,26.5,26,26,26,25.5,25.5,25,25,25,25,25,25,25,25,24.5,24.5,24.5,24.5,24.5,24,24,24,24,24,24,24,24,24,24,24,24,24,24,24,24,24,24,24,24,24,24,24],
 [38,36,35,35,34,34,33,33,32.5,32,31.5,31.5,31,31,31,31,31,30.5,30.5,30.5,30,30,30,29.5,29.5,29,29,29,29,28.5,28.5,28.5,28,28,28,28,28,28,28,28,28,28,28,28,28,28,28,28,28,28],
 [20,20,18,19,22,24,23,22,21,21,21,20.5,20,20,20.5,21,21,21.5,21.5,22,22,22,22,22,22,22,21.5,21.5,21.5,21.5,21.5,21.5,21.5,21.5,21.5,22,22,22,22,22,22,22,22,22,22,22,22,22,22,22],
 [20,33,35,34,33,34,33,33,33,33,33.5,33.5,33,33,33,33.5,34,34,34.5,35,35,35.5,36,36.5,37,37,37,37.5,37.5,38,38,38,38,38.5,38.5,38.5,39,39,39,39.5,39.5,39.5,40,40,40,40,40,39.5,39.5,39.5],
 [100,100,100,100,100,99.5,99,99,98.5,98.5,98.5,98,98,97.5,97.5,97,97,97,96.5,96.5,96.5,96,96,96,95.5,95.5,95,95,95,95,94.5,94.5,94,93.5,93,92.5,92,91.5,91,91,90.5,90.5,90,90,89.5,89.5,89,89,88.5,88],
 [80,74,75,68,70,69,68,67,66,63,62,60,58,57,56,55,55,54,53,52.5,52,51,50,50,49.5,49.5,49.5,49.5,49.5,49.5,49,49,49,49,48.5,48.5,48.5,48.5,48.5,48,47.5,47,47,47,46.5,46.5,46,46,46,46],
 [80,73,68,65,63,62,61,60,59,58,57,57,58,60,60,60,60,61,61,60,59,58,58,58,57,57,56,57,57,56,56,56,55,55,55,54,54,54,54,54,54,55,55,55,55,54,54,53,53,53]
];
const occY04R = [
 [10,25,30,32,33,33,32,31.5,31,30.5,30,30,29.5,29,29,28.5,28.5,28,28,27.5,27.5,27,27,26.5,26.5,26,26,26,25.5,25.5,25.5,25,25,25,24.5,24.5,24.5,24,24,24,24,23.5,23.5,23.5,23.5,23,23,23,23,23],
 [41,32,30,32,34,35,35,34.5,34,33.5,33,33,32.5,32,32,31.5,31,31,30.5,30.5,30,30,29.5,29.5,29,29,29,28.5,28.5,28.5,28,28,28,27.5,27.5,27.5,27,27,27,27,27,26.5,26.5,26.5,26.5,26,26,26,26,26],
 [28,24,23,23,22.5,22,22,21.5,21.5,21,21,21,21,21,21,21,21,21,21,21.5,21.5,21.5,22,22,22,22,22,22.5,22.5,22.5,22.5,23,23,23,23,23,23.5,23.5,23.5,23.5,23.5,24,24,24,24,24,24,24,24,24],
 [40,44,43,38,37,37,37,36.5,36.5,36,36,35.5,35,34.5,34,33.5,33,32.5,32,32,31.5,31.5,31,31,30.5,30.5,30,30,30,30,29.5,29.5,29.5,29,29,29,29,28.5,28.5,28.5,28.5,28.5,28,28,28,28,28,28,28,28],
 [20,23,28,30,31,32,31,30.5,30,30,29.5,29,28.5,28,28,27.5,27,27,26.5,26.5,26,26,26,25.5,25.5,25.5,25,25,25,25,25,25,25,25,25,25,25,25,25,25,25,25,25,25,25,25,25,25,25,25],
 [60,33,35,34,36,38,37,37,37,38,38,37.5,37,36.5,36,35.5,35,35,34.5,34.5,34,34,33.5,33,33,32.5,32,32,31.5,31.5,31,31,31,31,31,31,31,31,31,31,30.5,30.5,30.5,30.5,30.5,30,30,30,30,30],
 [100,100,100,100,100,100,100,100,100,100,100,100,100,100,100,100,100,100,100,100,100,100,100,100,100,100,100,100,100,100,100,100,100,100,100,100,100,100,100,100,100,100,100,100,100,100,100,100,100,100],
 [20,22,20,28,29,30,30.5,31,31,30.5,30,29.5,29,28,27,26,25.5,25,25,25,25,25,25.5,25.5,26,26,26,26,26,26,26,26,25.5,25.5,25.5,25.5,25.5,25,25,25,25,25,25,25,25,25,25,25,25,25],
 [10,25,27,29,31,32,32.5,33,33,33,33,33,32.5,32.5,32,32,31.5,31,31,30.5,30,30,29.5,29.5,29,29,29,29,29,29,29,29,29,28.5,28.5,28.5,28.5,28,28,28,28,28,28,27.5,27.5,27.5,27.5,27,27,27]
];
const occY08L = [
 [25,28,27,26,25.5,25,25,25.5,26,26,26,25.5,25.5,25.5,25.5,25.5,25,25,25,25,25,25,25,25,25,25,25,25,25,25,25,25,25,25,25,25,25,25,25,25,25,25,25,25,25,25,25,25,25,25],
 [40,35,35,34.5,34,33.5,33,32.5,32,31.5,31,30.5,30,30,29.5,29,29,28.5,28.5,28,28,27.5,27.5,27,27,27,26.5,26.5,26.5,26,26,26,26,25.5,25.5,25.5,25.5,25.5,25.5,25.5,25,25,25,25,25,25,25,25,25,25],
 [30,28,26,25.5,25,25,24.5,24.5,24,24,24,24,24,24,24,24,24,24,24,24,24,24,24,24,24,24,24,24,24,24,23.5,23.5,23.5,23.5,23.5,23.5,23.5,23.5,23.5,23.5,23,23,23,23,23,23,23,23,23,23],
 [21,29,26,25,24.5,24,24,24,24,24,24,24,24.5,24.5,25,25,25,24.5,24.5,24,24,23.5,23.5,23,23,23,23,23,23,23,23,23,23,23,23,23,23,23,23,23.5,23.5,23.5,23.5,23.5,24,24,24,24,24,24],
 [28,25,26,25,24.5,24,24,23.5,23,23,23,23,23,23,23,23,23,23,23,23,23,23,23,23,23,23,23,23,23,23,23,23,23,23,23,23,23,23,23,23,23,23,23,23,23,23,23,23,23,23],
 [40,53,58,64,60,58,56,55,55,55.5,55,54.5,54,54.5,55,55.5,56,56.5,57,57,56.5,56,56,56.5,57,56.5,56,55.5,55,54.5,54,53.5,53,53,52.5,52,51.5,51,50.5,50,50,49.5,49.5,49,48.5,48,48,48,48,48],
 [100,100,100,100,100,100,100,100,100,100,100,100,100,100,100,100,100,100,100,100,100,100,100,100,100,100,100,100,100,100,99.5,99.5,99,99,99,99,99,98.5,98.5,98.5,98.5,98,98,97.5,97,97,96.5,96,95.5,95],
 [30,18,22,24,23,22,23,24,25,24.5,24,24.5,25,25.5,26,26,26,26.5,26.5,27,27,27,27,27,27,27,27,27,27.5,27.5,27.5,27.5,28,28,28,28,28.5,28.5,29,29.5,29.5,30,30,30,30,30,30,30,30,30],
 [90,76,70,66,64,63,64,64.5,64,63,62.5,62,62.5,63,63,62.5,62,61.5,61,60.5,60,59.5,59,58.5,58,58,58,57.5,57.5,57,57,57,57,56.5,56,56,55.5,55.5,55,55,54.5,54.5,54,54,54,54,53.5,53,52.5,52]
];
const occY08R = [
 [35,26,25,25.5,26,26,25.5,25.5,25,25,25,25,25,25,25,25,25,25,25,25,25,25,25,25,25,25,25,24.5,24.5,24.5,24.5,24.5,24.5,24.5,24.5,24.5,24.5,24.5,24,24,24,24,24,24,24,24,24,24,24,24],
 [37,36,34,33,32.5,32,31.5,31,31,30.5,30,30,29.5,29.5,29,29,29,28.5,28.5,28,28,28,27.5,27.5,27.5,27,27,27,27,27,27,27,27,26.5,26.5,26.5,26.5,26.5,26.5,26.5,26,26,26,26,26,26,26,26,26,26],
 [50,44,42,41,40,39,38,37,36,35.5,35,34.5,34,34,33.5,33,33,32.5,32,31.5,31,31,30.5,30.5,30,30,30,29.5,29.5,29.5,29,29,29,29,28.5,28.5,28.5,28.5,28,28,28,28,28,28,28,28,28,28,28,28],
 [32,30,27,27.5,28,28,28,28,28,28,28,28,27.5,27.5,27,27,27,27,27,27,26.5,26.5,26.5,26,26,26,26,26,26,26,26,26,26,26,26,25.5,25.5,25.5,25.5,25.5,25.5,25.5,25,25,25,25,25,25,25,25],
 [30,17,18,20,22,23,23.5,24,24.5,25,25,25,25,25,25,25,25,25,25,25,25,25,25,25,25,25,25,25,25,25,24.5,24.5,24.5,24.5,24.5,24.5,24.5,24.5,24.5,24.5,24,24,24,24,24,24,24,24,24,24],
 [33,38,35,30,30.5,31,32,33,33,33,33,33,32.5,32.5,32,32,31.5,31.5,31,31,30.5,30,29.5,29,29,29,28.5,28.5,28.5,28.5,28,28,28,28,28,28,27.5,27.5,27.5,27.5,27.5,27,27,27,27,27,27,27,27,27],
 [100,100,100,100,100,100,100,100,100,100,100,100,100,100,100,100,100,100,100,100,100,100,100,100,100,100,100,100,100,100,100,100,100,100,100,100,100,100,100,100,100,100,100,100,100,100,100,100,100,100],
 [33,22,19,22,24,24,23.5,23,23.5,24,25,25,24.5,24.5,24,24,24,24,24,24,23.5,23.5,23.5,23.5,23.5,23.5,23.5,23.5,23,23,23,23,23,23,23,22.5,22.5,22.5,22.5,22.5,22.5,22.5,22.5,22,22,22,22,22,22,22],
 [42,40,44,46,45,43,42.5,42,42,41,40,39,38,37,36.5,36,35,34.5,34,33.5,33,32.5,32,31.5,31,31,30.5,30.5,30,30,30,30,30,30,30,30,30,30,30,30,30,30,30,30,30,30,30,30,30,30]
];

// ---------------- build chart ----------------
const FONT = '"Liberation Sans", Arial, sans-serif';
const grids = [], xAxes = [], yAxes = [], series = [], G = [];
const isMult = (v, s) => Math.abs(v / s - Math.round(v / s)) < 1e-6;

function addGrid(l, t, w, h, border) {
  grids.push({left: l, top: t, width: w, height: h, show: true, backgroundColor: '#fff',
    borderColor: border || '#bdbdbd', borderWidth: 0.6, containLabel: false, outerBoundsMode: 'none'});
  return grids.length - 1;
}
function valAxis(gi, min, max, step, ticks, dec, size, show, grid) {
  return {type: 'value', gridIndex: gi, min: min, max: max, minInterval: step, maxInterval: step,
    axisLine: {show: false},
    axisTick: {show: show, length: 1.5, lineStyle: {color: '#555', width: 0.5}, customValues: ticks},
    axisLabel: {show: show, customValues: ticks, fontSize: size, color: '#4d4d4d', fontFamily: FONT, margin: 2,
      formatter: v => isMult(v, step) ? (+v).toFixed(dec) : ''},
    splitLine: {show: grid, lineStyle: {color: '#e4e4e4', width: 0.5}},
    minorTick: {show: false, splitNumber: 2},
    minorSplitLine: {show: grid, lineStyle: {color: '#f2f2f2', width: 0.4}}};
}
function rect(x, y, w, h, fill, stroke) {
  G.push({type: 'rect', shape: {x: x, y: y, width: w, height: h}, style: {fill: fill, stroke: stroke, lineWidth: 0.5}, silent: true, z: 100});
}
function text(x, y, s, size, align, opts, color) {
  const o = {type: 'text', x: x, y: y, silent: true, z: 101,
    style: {text: s, fontSize: size, fontFamily: FONT, fill: color || '#1a1a1a', textAlign: align || 'left', textVerticalAlign: 'middle', align: align || 'left', verticalAlign: 'middle'}};
  if (opts) Object.assign(o, opts);
  G.push(o);
}
function strip(x, y, w, h, s, fill, stroke, size) {
  rect(x, y, w, h, fill, stroke);
  text(x + w / 2, y + h / 2, s, size, 'center');
}

// ---- Panel A ----
function panelA(l, w, gray, sigNames, sig, stripLabel) {
  const gi = addGrid(l, 24, w, 133, '#d0d0d0');
  xAxes.push({type: 'category', gridIndex: gi, data: aTimes, boundaryGap: true, axisLine: {show: false},
    axisTick: {show: true, alignWithLabel: true, length: 1.5, lineStyle: {color: '#555', width: 0.4}},
    axisLabel: {fontSize: 3, color: '#555', margin: 2.5, interval: 0, fontFamily: FONT}, splitLine: {show: false}});
  yAxes.push(valAxis(gi, -0.96, 1.09, 0.1, aYTicks, 1, 3, true, false));
  gray.forEach(r => series.push({type: 'line', name: 'Not Significant', xAxisIndex: gi, yAxisIndex: gi, data: r,
    symbol: 'circle', symbolSize: 1.3, lineStyle: {width: 0.6, color: 'rgba(175,175,175,0.5)'},
    itemStyle: {color: 'rgba(150,150,150,0.6)'}, animation: false, silent: true}));
  sigNames.forEach((n, k) => {
    const c = aColors[aNames.indexOf(n)];
    series.push({type: 'line', name: n, xAxisIndex: gi, yAxisIndex: gi, data: sig[k], symbol: 'circle', symbolSize: 2.2,
      lineStyle: {width: 0.8, color: c}, itemStyle: {color: c}, animation: false});
  });
  strip(l, 16.5, w, 6.5, stripLabel, '#ffffff', '#333333', 3);
}
panelA(25, 185, aLGray, aLSigNames, aLSig, 'L');
panelA(219, 184, aRGray, aRSigNames, aRSig, 'R');
text(12, 17, 'A', 12);
text(31, 11.5, 'WOMAC Total Score', 5.5, 'left', null, '#333');
text(13, 90, 'Association between predictors and outcomes', 3.4, 'center', {rotation: Math.PI / 2});
text(214, 167, 'Follow up time (year)', 3.6, 'center');
text(410, 29.5, 'Top 10', 3.3);
text(410, 33, 'predictors', 3.3);
text(410, 36.5, '(Both sides)', 3.3);

// ---- Panels B & C ----
function modelFacet(l, t, w, h, rows, yMin, yMax, step, ticks, dec, showX) {
  const gi = addGrid(l, t, w, h);
  const xa = valAxis(gi, -0.4, 52.4, 10, xVarTicks, 0, 4.2, showX, true);
  xAxes.push(xa);
  yAxes.push(valAxis(gi, yMin, yMax, step, ticks, dec, 4.3, true, true));
  rows.forEach((r, k) => series.push({type: 'line', name: models[k], xAxisIndex: gi, yAxisIndex: gi,
    data: xVar.map((x, i) => [x, r[i]]), symbol: 'circle', symbolSize: (k === 9 || k === 11) ? 2.8 : 2.2,
    lineStyle: {width: 0.6, color: modelLine[k]}, itemStyle: {color: modelColors[k]}, animation: false}));
}
// B
modelFacet(26, 191, 175, 82, rmseY04L, -0.1, 8.42, 2, bTicksY04L, 0, false);
modelFacet(209, 191, 176, 82, rmseY04R, -0.13, 7.85, 2, bTicksY04R, 0, false);
modelFacet(26, 293, 175, 80, rmseY08L, 0.12, 6.02, 2, bTicksY08L, 0, true);
modelFacet(209, 293, 176, 80, rmseY08R, 0.17, 5.27, 1, bTicksY08R, 0, true);
const SF = '#d9d9d9', SS = '#9a9a9a';
strip(26, 175, 175, 8, 'Y04', SF, SS, 4); strip(26, 183, 175, 8, 'L', SF, SS, 4);
strip(209, 175, 176, 8, 'Y04', SF, SS, 4); strip(209, 183, 176, 8, 'R', SF, SS, 4);
strip(26, 275, 175, 9, 'Y08', SF, SS, 4); strip(26, 284, 175, 9, 'L', SF, SS, 4);
strip(209, 275, 176, 9, 'Y08', SF, SS, 4); strip(209, 284, 176, 9, 'R', SF, SS, 4);
text(16, 172, 'B', 12);
text(13, 284, 'RMSE', 4.6, 'center', {rotation: Math.PI / 2});
text(205, 383, 'Variable numbers', 5.2, 'center');
text(393, 228.5, 'Models', 5.5);
// C
modelFacet(34, 408, 167, 81, rY04L, -0.343, 0.685, 0.25, cTicksY04, 2, false);
modelFacet(218, 408, 167, 81, rY04R, -0.254, 0.695, 0.25, cTicksY04, 2, false);
modelFacet(34, 510, 167, 80, rY08L, -0.197, 0.6, 0.2, cTicksY08, 1, true);
modelFacet(218, 510, 167, 80, rY08R, -0.097, 0.628, 0.2, cTicksY08, 1, true);
strip(34, 391, 167, 8.5, 'Y04', SF, SS, 4); strip(34, 399.5, 167, 8.5, 'L', SF, SS, 4);
strip(218, 391, 167, 8.5, 'Y04', SF, SS, 4); strip(218, 399.5, 167, 8.5, 'R', SF, SS, 4);
strip(34, 492, 167, 9, 'Y08', SF, SS, 4); strip(34, 501, 167, 9, 'L', SF, SS, 4);
strip(218, 492, 167, 9, 'Y08', SF, SS, 4); strip(218, 501, 167, 9, 'R', SF, SS, 4);
text(16, 400, 'C', 12);
text(16, 497, 'r', 5, 'center', {rotation: Math.PI / 2});
text(209, 600, 'Variable numbers', 5.2, 'center');
text(393, 446, 'Models', 5.5);

// ---- Panel D ----
const dTops = [622, 725, 828, 931];
[occY04L, occY04R, occY08L, occY08R].forEach((rows, f) => {
  const gi = addGrid(37, dTops[f], 335, 88);
  const last = f === 3;
  xAxes.push(valAxis(gi, -39.5, 1049.5, 250, dXTicks, 0, 5.8, last, true));
  yAxes.push(valAxis(gi, 5.5, 104.5, 25, dYTicks, 0, 5.8, true, true));
  rows.forEach((r, k) => series.push({type: 'line', name: dNames[k], xAxisIndex: gi, yAxisIndex: gi,
    data: xTopN.map((x, i) => [x, r[i]]), symbol: 'circle', symbolSize: 2.2,
    lineStyle: {width: 0.8, color: dColors[k]}, itemStyle: {color: dColors[k]}, animation: false}));
  strip(37, dTops[f] - 10, 335, 10, dFacets[f], '#c2c2c2', '#8c8c8c', 6);
});
text(18, 616, 'D', 12);
text(16, 822, 'Relative occurence to top N tests', 6.6, 'center', {rotation: Math.PI / 2});
text(204, 1034, 'Top N tests based on RMSE', 6.8, 'center');
text(383, 768, 'Top 5 variables', 7);

const chart = echarts.init(document.getElementById('c'), null, {renderer: 'canvas', width: 455, height: 1050});
chart.setOption({
  animation: false,
  backgroundColor: '#ffffff',
  textStyle: {fontFamily: FONT},
  grid: grids, xAxis: xAxes, yAxis: yAxes, series: series, graphic: G,
  legend: [
    {data: aNames, orient: 'vertical', left: 409, top: 43.5, padding: 0, itemWidth: 7, itemHeight: 3.5, itemGap: 2.6,
      selectedMode: false, textStyle: {fontSize: 3, lineHeight: 4, color: '#333', fontFamily: FONT}},
    {data: models, orient: 'vertical', left: 391, top: 236.5, padding: 0, itemWidth: 8, itemHeight: 3.5, itemGap: 3.64,
      selectedMode: false, textStyle: {fontSize: 4.3, lineHeight: 5, color: '#333', fontFamily: FONT}},
    {data: models, orient: 'vertical', left: 391, top: 461.5, padding: 0, itemWidth: 8, itemHeight: 3.5, itemGap: 2.9,
      selectedMode: false, textStyle: {fontSize: 4.3, lineHeight: 5, color: '#333', fontFamily: FONT}},
    {data: dNames.map((n, k) => ({name: n, itemStyle: {color: dColors[k]}, lineStyle: {color: dColors[k], width: 1}})),
      orient: 'vertical', left: 384, top: 777, padding: 0, itemWidth: 10, itemHeight: 4, itemGap: 4.6,
      selectedMode: false, textStyle: {fontSize: 6.3, lineHeight: 7, color: '#1a1a1a', fontFamily: FONT,
        rich: {s: {fontSize: 2.6, lineHeight: 3.2, color: '#333'}}},
      formatter: n => n.indexOf('Considering') === 0 ? '{s|Considering knee pain,}\n{s|how are you doing today?}' : n}
  ]
});
</script></body></html>
